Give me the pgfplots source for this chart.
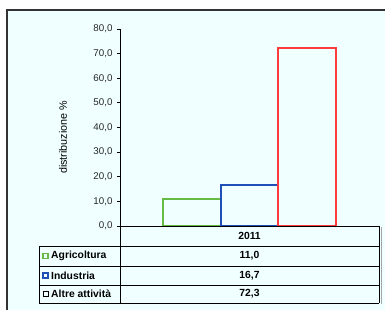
\documentclass[border=0pt]{standalone}
\usepackage{pgfplots}
\pgfplotsset{compat=1.18}
\usepackage{fontspec}
\setmainfont{Liberation Sans}
\definecolor{bg}{HTML}{F0FFFF}
\definecolor{cgreen}{HTML}{66BB44}
\definecolor{cblue}{HTML}{1F50B8}
\definecolor{cred}{HTML}{FF3B3B}
\definecolor{frame}{HTML}{333333}
\begin{document}
\begin{tikzpicture}[x=1bp,y=1bp]
\path[use as bounding box] (0,0) rectangle (385,310);
\fill[white] (0,0) rectangle (385,310);
\fill[bg] (7,0) rectangle (385,300);
\draw[frame, line width=1.8bp] (7,0) -- (7,300) -- (385,300);
\begin{axis}[
  at={(120bp,84bp)}, anchor=south west,
  scale only axis, width=259bp, height=197bp,
  xmin=-2.25, xmax=2.25, ymin=0, ymax=80,
  axis x line=none, axis y line*=left,
  ytick={0,10,...,80},
  tick align=outside, major tick length=3bp,
  y axis line style={black, line width=0.8bp},
  ytick style={black, line width=0.8bp},
  yticklabel style={font=\fontsize{9.8}{10}\selectfont, text=black!85, xshift=-1bp},
  /pgf/number format/.cd, fixed, fixed zerofill, precision=1, use comma, assume math mode=true,
  /pgfplots/.cd,
  ylabel={distribuzione \%},
  ylabel style={at={(axis description cs:-0.22,0.45)}, anchor=center, font=\fontsize{10.8}{11}\selectfont},
  clip=false,
]
\addplot[ybar, bar width=1, bar shift=0, draw=cgreen, line width=1.6bp, fill=bg] coordinates {(-1,11.0)};
\addplot[ybar, bar width=1, bar shift=0, draw=cblue, line width=1.6bp, fill=bg] coordinates {(0,16.7)};
\addplot[ybar, bar width=1, bar shift=0, draw=cred, line width=1.6bp, fill=bg] coordinates {(1,72.3)};
\end{axis}
% data table
\begin{scope}[line width=0.9bp, black]
\draw (120,84) -- (379,84);
\draw (39,64) -- (379,64);
\draw (39,44) -- (379,44);
\draw (39,25) -- (379,25);
\draw (39,7) -- (379,7);
\draw (39,64) -- (39,7);
\draw (120,84) -- (120,7);
\draw (379,84) -- (379,7);
\end{scope}
\draw[gray!70, line width=1.5bp] (381.5,83) -- (381.5,6);
\begin{scope}[font=\fontsize{10.4}{11}\selectfont\bfseries]
\node at (249.5,74) {2011};
\node at (249.5,54) {11,0};
\node at (249.5,34.5) {16,7};
\node at (249.5,16) {72,3};
\draw[cgreen, line width=1.2bp] (43,51.5) rectangle (48,56.5);
\draw[cblue, line width=1.2bp] (43,32) rectangle (48,37);
\draw[black, line width=0.7bp] (43,13.5) rectangle (48,18.5);
\node[anchor=west, inner sep=0pt] at (51,54) {Agricoltura};
\node[anchor=west, inner sep=0pt] at (51,34.5) {Industria};
\node[anchor=west, inner sep=0pt] at (51,16) {Altre attività};
\end{scope}
\end{tikzpicture}
\end{document}
